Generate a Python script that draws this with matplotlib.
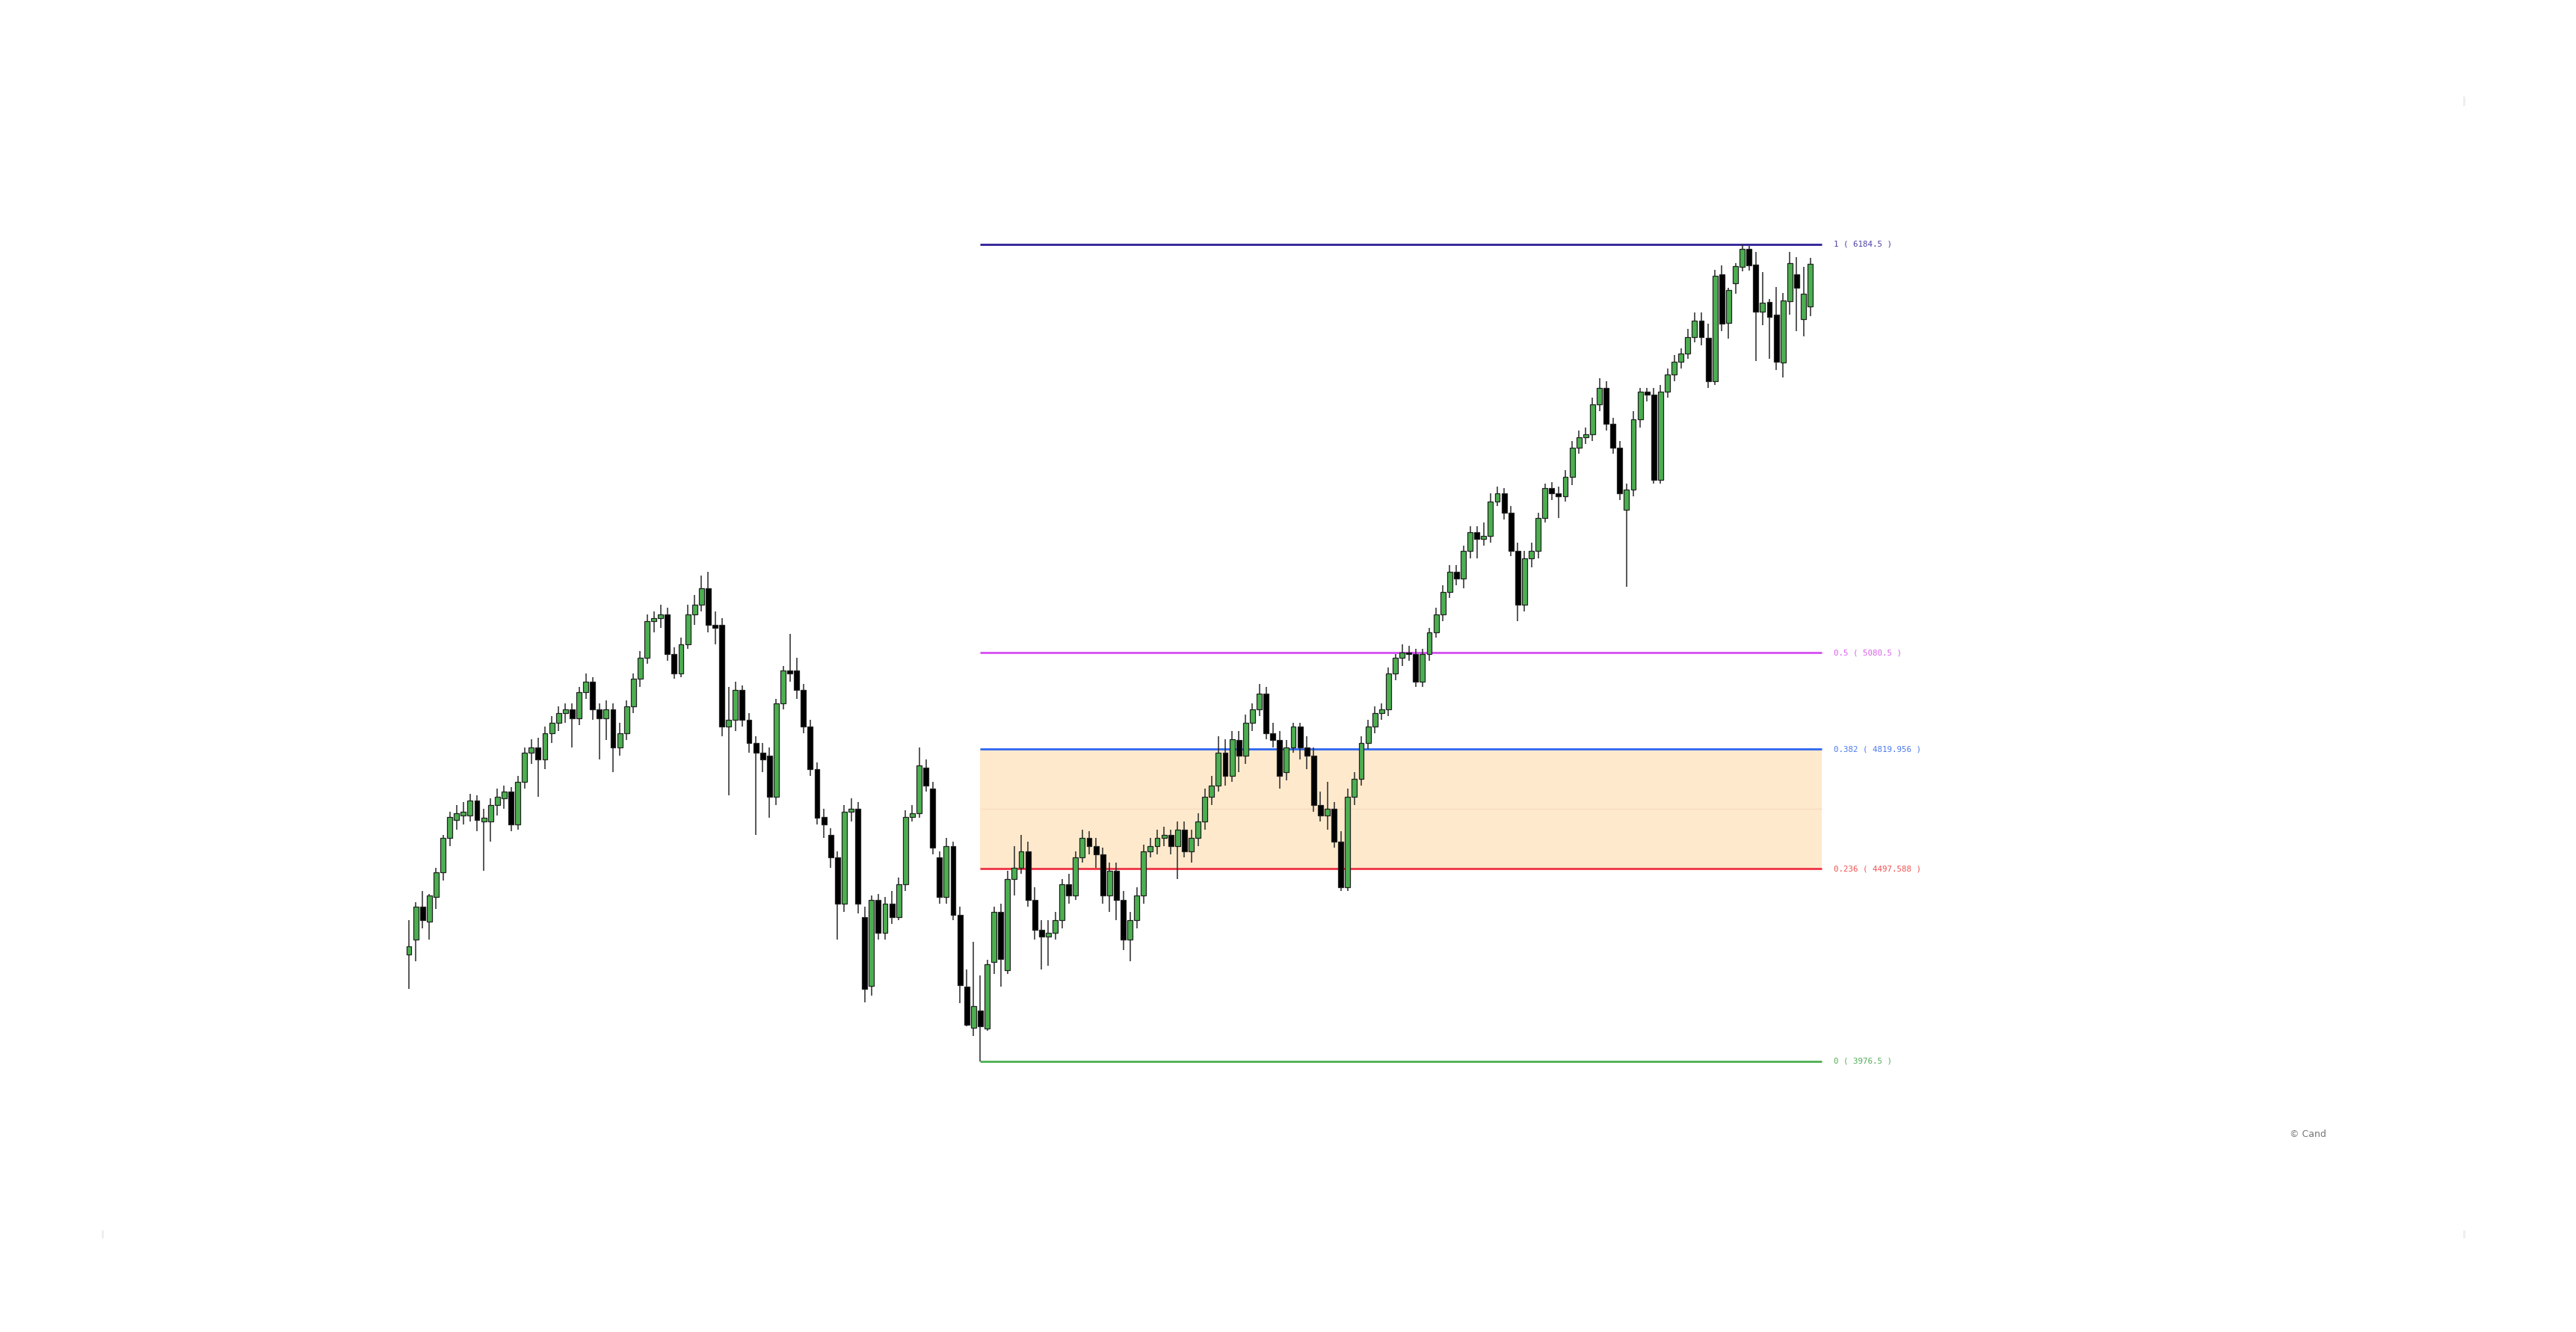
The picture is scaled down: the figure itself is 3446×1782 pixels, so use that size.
import matplotlib
matplotlib.use("Agg")
import matplotlib.pyplot as plt
from matplotlib.lines import Line2D

# OHLC values, one entry per candle
opens = [
    4265, 4305, 4394, 4354, 4420, 4487, 4580, 4629, 4642, 4642,
    4682, 4625, 4625, 4669, 4687, 4705, 4616, 4731, 4811, 4824,
    4793, 4864, 4891, 4918, 4927, 4904, 4975, 5002, 4927, 4904,
    4927, 4824, 4864, 4935, 5011, 5068, 5166, 5175, 5184, 5077,
    5024, 5104, 5184, 5210, 5255, 5157, 5157, 4882, 4900, 4980,
    4900, 4838, 4811, 4802, 4691, 4944, 5033, 5033, 4980, 4882,
    4766, 4638, 4589, 4527, 4403, 4651, 4660, 4367, 4181, 4412,
    4323, 4403, 4367, 4456, 4638, 4647, 4771, 4713, 4527, 4420,
    4558, 4372, 4179, 4067, 4114, 4065, 4245, 4380, 4223, 4469,
    4500, 4545, 4412, 4332, 4314, 4323, 4358, 4456, 4425, 4527,
    4580, 4558, 4536, 4425, 4491, 4412, 4305, 4358, 4425, 4545,
    4558, 4580, 4589, 4558, 4602, 4545, 4580, 4625, 4691, 4722,
    4811, 4749, 4846, 4802, 4891, 4927, 4971, 4864, 4846, 4758,
    4824, 4882, 4824, 4802, 4669, 4642, 4660, 4571, 4447, 4691,
    4740, 4838, 4882, 4918, 4927, 5024, 5068, 5082, 5077, 5002,
    5077, 5135, 5184, 5246, 5299, 5281, 5357, 5406, 5388, 5397,
    5490, 5512, 5459, 5357, 5210, 5335, 5357, 5446, 5526, 5512,
    5503, 5557, 5636, 5663, 5672, 5752, 5796, 5699, 5636, 5468,
    5521, 5712, 5787, 5778, 5548, 5787, 5832, 5867, 5889, 5934,
    5978, 5932, 5814, 6104, 5972, 6080, 6124, 6172, 6130, 6003,
    6029, 5995, 5865, 6031, 6104, 5983, 6017,
]
highs = [
    4358, 4407, 4438, 4428, 4500, 4589, 4651, 4669, 4678, 4700,
    4696, 4660, 4687, 4713, 4722, 4718, 4749, 4824, 4847, 4851,
    4882, 4909, 4935, 4944, 4944, 4989, 5024, 5015, 4944, 4953,
    4944, 4891, 4953, 5024, 5086, 5184, 5193, 5210, 5202, 5095,
    5122, 5210, 5237, 5290, 5299, 5193, 5175, 4989, 5002, 4993,
    4918, 4855, 4838, 4824, 4957, 5046, 5131, 5068, 4997, 4900,
    4784, 4660, 4607, 4545, 4669, 4687, 4678, 4394, 4425, 4429,
    4420, 4438, 4474, 4656, 4669, 4824, 4793, 4731, 4545, 4580,
    4571, 4394, 4225, 4300, 4209, 4251, 4394, 4403, 4492, 4558,
    4589, 4571, 4447, 4358, 4358, 4381, 4469, 4483, 4545, 4602,
    4598, 4580, 4554, 4514, 4514, 4438, 4380, 4447, 4562, 4580,
    4602, 4611, 4602, 4625, 4625, 4602, 4647, 4713, 4749, 4855,
    4847, 4869, 4869, 4913, 4944, 4997, 4989, 4891, 4869, 4846,
    4891, 4891, 4855, 4824, 4705, 4731, 4678, 4598, 4713, 4758,
    4855, 4900, 4935, 4944, 5042, 5077, 5104, 5100, 5091, 5091,
    5148, 5202, 5264, 5317, 5317, 5370, 5423, 5423, 5432, 5512,
    5530, 5526, 5477, 5379, 5357, 5379, 5459, 5539, 5543, 5530,
    5574, 5654, 5681, 5690, 5770, 5823, 5814, 5716, 5654, 5539,
    5734, 5796, 5796, 5796, 5805, 5850, 5885, 5903, 5956, 6000,
    6000, 5970, 6116, 6128, 6067, 6134, 6184.5, 6180, 6164, 6110,
    6037, 6069, 6053, 6164, 6150, 6124, 6148,
]
lows = [
    4172, 4247, 4336, 4305, 4389, 4465, 4558, 4602, 4616, 4625,
    4598, 4491, 4571, 4642, 4660, 4598, 4602, 4713, 4780, 4691,
    4766, 4838, 4869, 4891, 4824, 4886, 4957, 4900, 4793, 4846,
    4758, 4802, 4846, 4918, 4989, 5051, 5135, 5148, 5060, 5011,
    5015, 5091, 5157, 5193, 5135, 5104, 4855, 4696, 4869, 4882,
    4811, 4589, 4758, 4634, 4669, 4927, 5002, 4957, 4864, 4749,
    4616, 4580, 4500, 4305, 4381, 4625, 4376, 4136, 4154, 4305,
    4305, 4349, 4358, 4438, 4625, 4634, 4705, 4536, 4403, 4403,
    4358, 4134, 4071, 4045, 3976.5, 4060, 4213, 4179, 4213, 4425,
    4483, 4394, 4305, 4225, 4234, 4305, 4336, 4403, 4412, 4514,
    4536, 4500, 4403, 4381, 4358, 4278, 4247, 4336, 4403, 4527,
    4536, 4558, 4536, 4469, 4527, 4514, 4558, 4602, 4669, 4705,
    4722, 4731, 4758, 4780, 4869, 4909, 4847, 4824, 4713, 4736,
    4811, 4793, 4766, 4651, 4625, 4602, 4554, 4438, 4438, 4669,
    4722, 4820, 4864, 4900, 4909, 5006, 5046, 5060, 4989, 4989,
    5060, 5122, 5166, 5228, 5264, 5255, 5335, 5335, 5370, 5379,
    5477, 5441, 5343, 5166, 5193, 5312, 5335, 5432, 5494, 5446,
    5490, 5534, 5619, 5645, 5654, 5734, 5681, 5619, 5494, 5259,
    5503, 5690, 5760, 5539, 5539, 5770, 5814, 5850, 5876, 5920,
    5912, 5796, 5805, 5950, 5930, 6051, 6112, 6114, 5869, 5966,
    5875, 5845, 5825, 5995, 5950, 5936, 5990,
]
closes = [
    4287, 4394, 4358, 4425, 4487, 4580, 4638, 4647, 4651, 4682,
    4629, 4634, 4669, 4691, 4705, 4616, 4731, 4811, 4824, 4793,
    4864, 4891, 4918, 4927, 4904, 4975, 5002, 4927, 4904, 4927,
    4824, 4864, 4935, 5011, 5068, 5166, 5175, 5184, 5077, 5024,
    5104, 5184, 5210, 5255, 5157, 5148, 4882, 4900, 4980, 4900,
    4838, 4811, 4793, 4691, 4944, 5033, 5024, 4980, 4882, 4766,
    4634, 4616, 4527, 4403, 4651, 4660, 4403, 4172, 4412, 4323,
    4403, 4367, 4456, 4638, 4647, 4776, 4722, 4554, 4420, 4558,
    4372, 4183, 4076, 4126, 4071, 4239, 4381, 4253, 4469, 4500,
    4545, 4412, 4332, 4314, 4323, 4358, 4456, 4425, 4527, 4580,
    4558, 4536, 4425, 4492, 4412, 4305, 4358, 4425, 4545, 4558,
    4580, 4589, 4558, 4602, 4545, 4580, 4625, 4691, 4722, 4811,
    4749, 4847, 4802, 4891, 4927, 4971, 4864, 4846, 4749, 4824,
    4882, 4824, 4802, 4669, 4642, 4660, 4571, 4447, 4691, 4740,
    4838, 4882, 4918, 4927, 5024, 5068, 5082, 5077, 5002, 5077,
    5135, 5184, 5246, 5299, 5281, 5357, 5406, 5388, 5397, 5490,
    5512, 5459, 5357, 5210, 5335, 5357, 5446, 5526, 5512, 5503,
    5557, 5636, 5663, 5672, 5752, 5796, 5699, 5636, 5512, 5521,
    5712, 5787, 5778, 5548, 5787, 5832, 5867, 5889, 5934, 5978,
    5934, 5814, 6100, 5970, 6061, 6126, 6172, 6128, 6003, 6027,
    5989, 5867, 6033, 6134, 6067, 6051, 6132,
]

# Fibonacci retracement drawn from the swing low to the swing high
fib_start = 84
fib_end = 207.7
fib_low = 3976.5
fib_high = 6184.5
fib_ratios = [1, 0.5, 0.382, 0.236, 0]
fib_line_colors = ['#2e1f96', '#d64ef2', '#2f66f2', '#ee3344', '#4caf50']
fib_text_colors = ['#4a3fa6', '#dc5ef0', '#4a78ee', '#f05050', '#4fae55']

fig = plt.figure(figsize=(17.23, 8.91), dpi=200)
ax = fig.add_axes([0, 0, 1, 1])
ax.axis('off')

x = list(range(len(opens)))
up = [c >= o for o, c in zip(opens, closes)]
body_bottom = [min(o, c) for o, c in zip(opens, closes)]
body_height = [max(abs(c - o), 2) for o, c in zip(opens, closes)]
body_colors = ['#4caf50' if u else '#000000' for u in up]

ax.vlines(x, lows, highs, color='#2a2a2a', linewidth=0.55, zorder=3)
ax.bar(x, body_height, bottom=body_bottom, width=0.76, color=body_colors,
       edgecolor='#222222', linewidth=0.45, zorder=4)

# band between 0.236 and 0.382
lvl = {r: fib_low + r * (fib_high - fib_low) for r in fib_ratios}
ax.fill_between([fib_start, fib_end], lvl[0.236], lvl[0.382],
                color='#ffe9cc', linewidth=0, zorder=1)
ax.hlines(4660, fib_start, fib_end, color='#f6dcc0', linewidth=0.5, zorder=1.2)

for r, lc, tc in zip(fib_ratios, fib_line_colors, fib_text_colors):
    price = lvl[r]
    value = f"{price:.3f}".rstrip('0').rstrip('.')
    ax.hlines(price, fib_start, fib_end, color=lc, linewidth=1.0, zorder=2)
    ax.text(209.5, price, f"{r:g} ( {value} )", color=tc,
            fontsize=3.9, family='DejaVu Sans Mono', va='center', ha='left')

ax.set_xlim(-60.11, 318.57)
ax.set_ylim(3245.1, 6845.1)

fig.text(0.889, 0.1487, '\u00a9 Cand', fontsize=4.5, color='#777777',
         va='center', ha='left')

# faint corner marks
for fx, fy0, fy1 in [(0.9565, 0.9214, 0.9270), (0.0397, 0.0713, 0.0758),
                     (0.9565, 0.0713, 0.0758)]:
    fig.add_artist(Line2D([fx, fx], [fy0, fy1], color='#eeeeee', linewidth=1))

fig.savefig('out.png', dpi=200, facecolor='white')
